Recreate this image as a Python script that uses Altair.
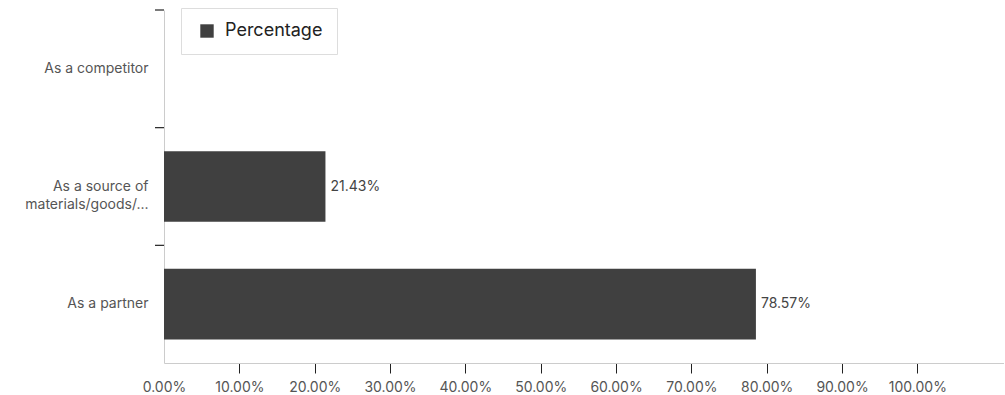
import altair as alt
import pandas as pd

# Survey responses: how the organisation is viewed
categories = ["As a competitor", "As a source of\nmaterials/goods/...", "As a partner"]
percentages = [0.0, 0.2143, 0.7857]
series_name = "Percentage"
tick_values = [0.0, 0.1, 0.2, 0.3, 0.4, 0.5, 0.6, 0.7, 0.8, 0.9, 1.0]

df = pd.DataFrame({"category": categories, "value": percentages, "series": series_name})

FONT = "Inter"
BAR = "#404040"
LABEL_SIZE = 14

y_enc = alt.Y(
    "category:N",
    sort=categories,
    title=None,
    scale=alt.Scale(paddingInner=0, paddingOuter=0),
    axis=alt.Axis(
        labelExpr="split(datum.label, '\\n')",
        labelFont=FONT,
        labelFontSize=LABEL_SIZE,
        labelColor="#555555",
        labelPadding=16,
        labelLineHeight=18,
        ticks=False,
        domainColor="#cccccc",
        domainWidth=1,
        labelLimit=200,
    ),
)

x_enc = alt.X(
    "value:Q",
    title=None,
    scale=alt.Scale(domain=[0, 1.115], nice=False),
    axis=alt.Axis(
        values=tick_values,
        format=".2%",
        labelFont=FONT,
        labelFontSize=LABEL_SIZE,
        labelColor="#555555",
        labelPadding=7,
        tickColor="#222222",
        tickSize=10,
        tickOpacity={"condition": {"test": "datum.value === 0", "value": 0}, "value": 1},
        domainColor="#cccccc",
        grid=False,
        labelFlush=False,
    ),
)

bars = alt.Chart(df).mark_bar(color=BAR, height={"band": 0.6}).encode(
    x=x_enc,
    y=y_enc,
    color=alt.Color(
        "series:N",
        scale=alt.Scale(range=[BAR]),
        legend=alt.Legend(
            title=None,
            orient="none",
            legendX=17,
            legendY=-2,
            symbolType="square",
            symbolSize=180,
            symbolStrokeWidth=0,
            labelFont=FONT,
            labelFontSize=18,
            labelColor="#222222",
            strokeColor="#dddddd",
            padding=14,
            labelOffset=9,
            symbolOffset=3,
        ),
    ),
)

# Category separators on the left axis, at the top edge of each band
band_ticks = alt.Chart(df).mark_rule(color="#222222", strokeWidth=1.2).encode(
    y=alt.Y("category:N", sort=categories, bandPosition=0),
    x=alt.value(-9),
    x2=alt.value(0),
)

labels = alt.Chart(df).transform_filter("datum.value > 0").mark_text(
    align="left", baseline="middle", dx=5, font=FONT, fontSize=LABEL_SIZE, color="#444444"
).encode(
    x="value:Q",
    y=alt.Y("category:N", sort=categories),
    text=alt.Text("value:Q", format=".2%"),
)

chart = (
    alt.layer(bars, band_ticks, labels)
    .properties(
        width=840,
        height=353,
        autosize=alt.AutoSizeParams(type="none"),
        padding={"left": 164, "top": 10, "right": 0, "bottom": 32},
    )
    .configure_view(stroke=None)
)

chart.save("out.html", embed_options={"renderer": "svg", "actions": False})
